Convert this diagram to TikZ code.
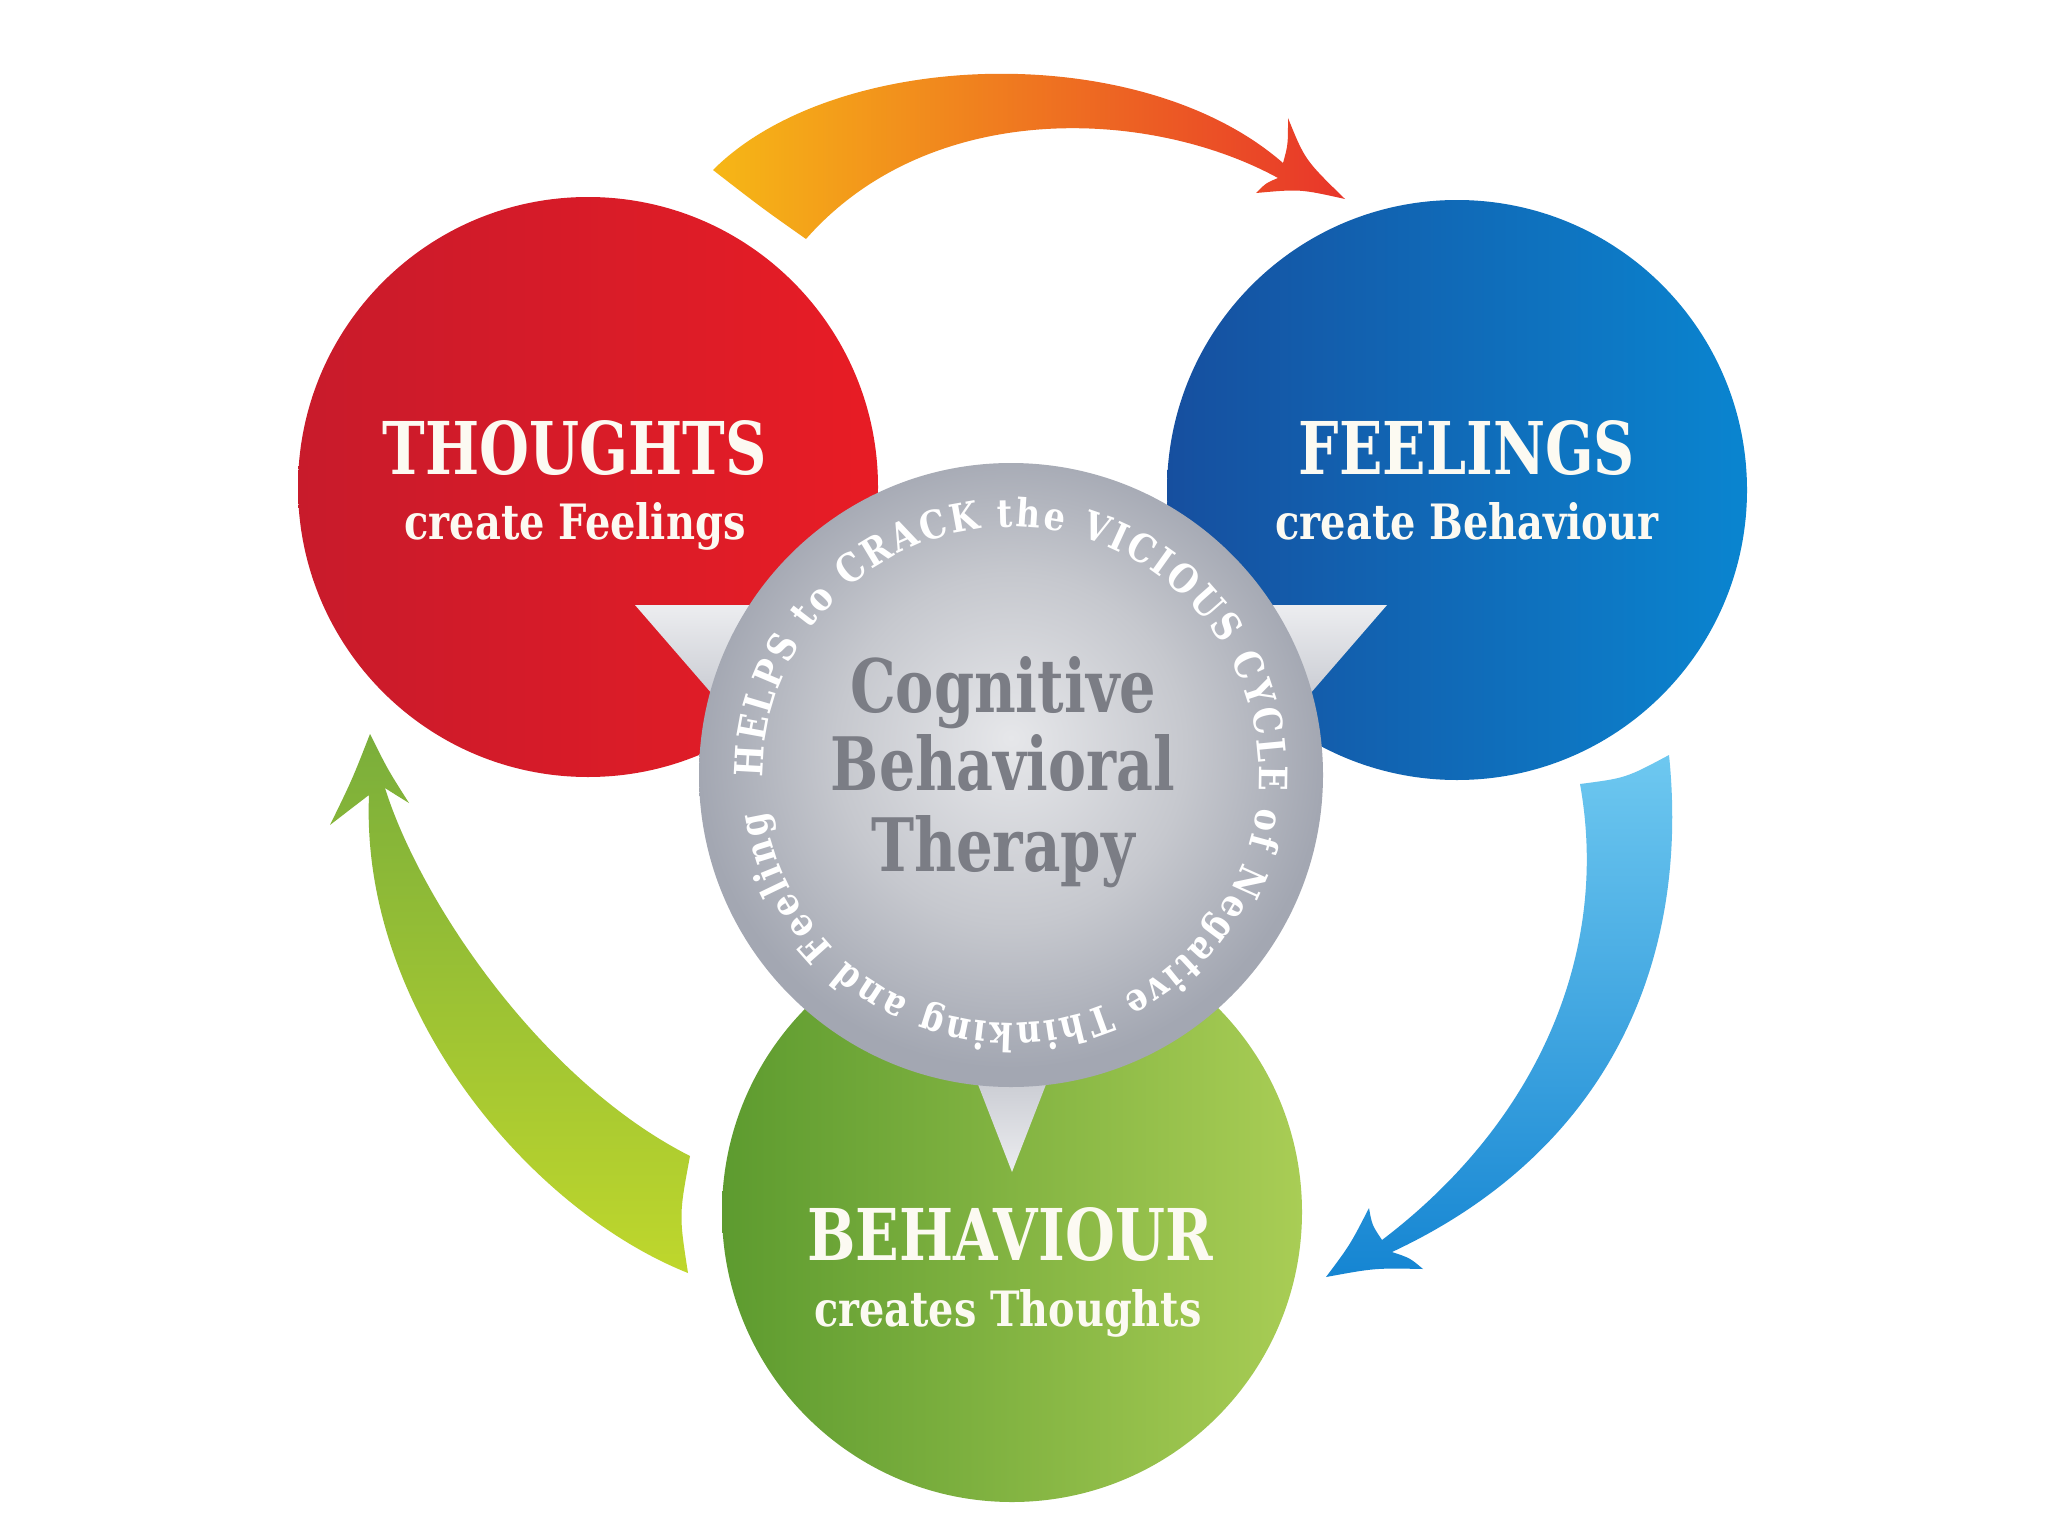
\documentclass[tikz,border=0pt]{standalone}
\usepackage{fontspec}
\usetikzlibrary{decorations.text}
\newfontfamily\labfont{DejaVu Serif}
\newfontfamily\circfont[FakeStretch=0.86]{DejaVu Serif}
\definecolor{redL}{HTML}{C81B2B}
\definecolor{redR}{HTML}{E81C25}
\definecolor{bluL}{HTML}{164F9F}
\definecolor{bluR}{HTML}{0A85D0}
\definecolor{grnL}{HTML}{5D9B2F}
\definecolor{grnR}{HTML}{A9CD55}
\definecolor{gIn}{HTML}{E6E7EA}
\definecolor{gMid}{HTML}{C6C8CE}
\definecolor{gOut}{HTML}{A3A7B2}
\definecolor{gText}{HTML}{7B7D85}
\definecolor{ptLight}{HTML}{ECEDF0}
\definecolor{ptDark}{HTML}{B4B7C0}
\definecolor{orY}{HTML}{F6B716}
\definecolor{orM}{HTML}{F28C1C}
\definecolor{orR}{HTML}{E8352A}
\definecolor{abTop}{HTML}{6EC8F0}
\definecolor{abBot}{HTML}{1585D2}
\definecolor{agTop}{HTML}{7AAE3B}
\definecolor{agBot}{HTML}{BFD72C}
\definecolor{labW}{HTML}{FCFAF2}
\pgfdeclareradialshading{grayball}{\pgfpoint{0bp}{3bp}}{color(0bp)=(gIn); color(14bp)=(gMid); color(25bp)=(gOut); color(50bp)=(gOut)}
\begin{document}
\begin{tikzpicture}[x=1pt,y=1pt,
  bigcirc/.style={circle, minimum size=580pt, inner sep=0pt, draw=none},
  lbl/.style={inner sep=0pt, anchor=base, text=labW},
  glbl/.style={inner sep=0pt, anchor=base, text=gText},
  pointer/.style={top color=ptLight, bottom color=ptDark, draw=none}]
\useasboundingbox (0,0) rectangle (2048,-1536);
\fill[white] (0,0) rectangle (2048,-1536);

% coloured circles
\node[bigcirc, left color=redL, right color=redR] (red) at (588,-487) {};
\node[bigcirc, left color=bluL, right color=bluR] (blue) at (1457,-490) {};
\node[bigcirc, left color=grnL, right color=grnR] (green) at (1012,-1212) {};

% orange arrow (Thoughts -> Feelings)
\shade[left color=orY, middle color=orM, right color=orR]
  (713,-170) .. controls (835,-48) and (1140,-38) .. (1283,-163)
  .. controls (1288,-145) .. (1288,-118)
  .. controls (1305,-160) .. (1345,-199)
  .. controls (1300,-189) .. (1256,-193)
  .. controls (1266,-183) .. (1278,-178)
  .. controls (1150,-108) and (930,-98) .. (806,-239)
  .. controls (762,-208) .. (713,-170) -- cycle;

% blue arrow (Feelings -> Behaviour)
\shade[top color=abTop, bottom color=abBot]
  (1669,-755) .. controls (1690,-960) and (1610,-1150) .. (1392,-1252)
  .. controls (1410,-1258) .. (1423,-1269)
  .. controls (1375,-1268) .. (1326,-1277)
  .. controls (1350,-1245) .. (1369,-1208)
  .. controls (1372,-1225) .. (1382,-1240)
  .. controls (1540,-1120) and (1610,-950) .. (1580,-784)
  .. controls (1626,-778) .. (1669,-755) -- cycle;

% green arrow (Behaviour -> Thoughts)
\shade[top color=agTop, bottom color=agBot]
  (688,-1273) .. controls (530,-1210) and (360,-1010) .. (369,-795)
  .. controls (352,-808) .. (330,-825)
  .. controls (352,-780) .. (370,-734)
  .. controls (388,-770) .. (409,-803)
  .. controls (396,-795) .. (385,-788)
  .. controls (420,-900) and (540,-1080) .. (690,-1156)
  .. controls (679,-1215) .. (688,-1273) -- cycle;

% pointers of the grey circle
\shade[pointer] (635,-605) -- (900,-605) -- (765,-755) -- cycle;
\shade[pointer] (1387,-605) -- (1122,-605) -- (1257,-755) -- cycle;
\shade[top color=ptDark, bottom color=ptLight] (1012,-1172) -- (953,-1020) -- (1071,-1020) -- cycle;

% grey circle
\node[circle, minimum size=624pt, inner sep=0pt, shading=grayball] (gc) at (1011,-775) {};
\coordinate (gcc) at (1011,-775);

% circular text
\path[decorate, decoration={text along path, text align={fit to path},
  text={|\circfont\bfseries\fontsize{39}{41}\selectfont\color{white}|HELPS to CRACK the VICIOUS CYCLE of Negative Thinking and Feeling}}]
  ([shift={(180.5:248)}]gcc) arc[start angle=180.5, end angle=-171.5, radius=248];

% centre text
\node[glbl] (cbt1) at (1003,-712) {\resizebox{306pt}{56pt}{\labfont\bfseries Cognitive}};
\node[glbl] (cbt2) at (1003,-790) {\resizebox{344pt}{56pt}{\labfont\bfseries Behavioral}};
\node[glbl] (cbt3) at (1003,-871) {\resizebox{264pt}{56pt}{\labfont\bfseries Therapy}};

% labels
\node[lbl] (t1) at (575,-474) {\resizebox{384pt}{54pt}{\labfont\bfseries THOUGHTS}};
\node[lbl] (t2) at (575,-539) {\resizebox{341pt}{37pt}{\labfont\bfseries create Feelings}};
\node[lbl] (f1) at (1467,-474) {\resizebox{336pt}{54pt}{\labfont\bfseries FEELINGS}};
\node[lbl] (f2) at (1467,-539) {\resizebox{383pt}{37pt}{\labfont\bfseries create Behaviour}};
\node[lbl] (b1) at (1010,-1260) {\resizebox{405pt}{53pt}{\labfont\bfseries BEHAVIOUR}};
\node[lbl] (b2) at (1008,-1326) {\resizebox{387pt}{37pt}{\labfont\bfseries creates Thoughts}};
\end{tikzpicture}
\end{document}
